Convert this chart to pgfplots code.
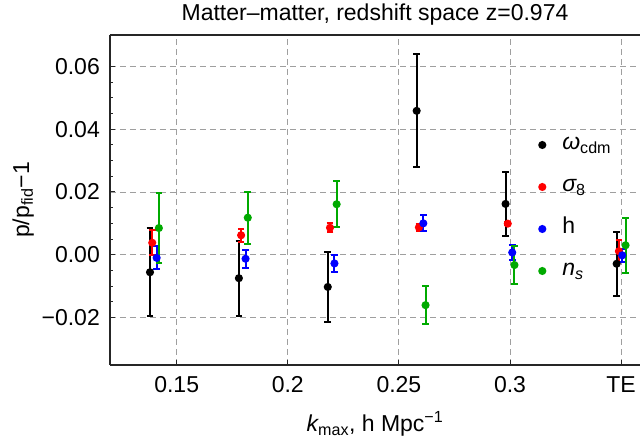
\documentclass[border=0pt]{standalone}
\usepackage{fontspec}
\setmainfont{Liberation Sans}
\usepackage{pgfplots}
\pgfplotsset{compat=1.18}
\usepackage{pgfplotstable}

\definecolor{mred}{rgb}{1,0,0}
\definecolor{mblue}{rgb}{0,0,1}
\definecolor{mgreen}{rgb}{0,0.667,0}
\newcommand\fs{\fontsize{23}{27}\selectfont}

% columns: k (shifted per series), value, error
\pgfplotstableread{
x      y        e
0.138  -0.0056  0.0140
0.178  -0.0075  0.0120
0.218  -0.0103  0.0113
0.258   0.0459  0.0180
0.298   0.0162  0.0103
0.348  -0.0029  0.0102
}\wcdm
\pgfplotstableread{
x      y        e
0.139   0.0038  0.0040
0.179   0.0062  0.0021
0.219   0.0086  0.0015
0.259   0.0087  0.0012
0.299   0.0099  0.0005
0.349   0.0011  0.0035
}\sigmaeight
\pgfplotstableread{
x      y        e
0.141  -0.0010  0.0037
0.181  -0.0013  0.0029
0.221  -0.0028  0.0028
0.261   0.0100  0.0026
0.301   0.0007  0.0025
0.3505 -0.0002  0.0020
}\hubble
\pgfplotstableread{
x      y        e
0.142   0.0085  0.0113
0.182   0.0118  0.0083
0.222   0.0161  0.0073
0.262  -0.0161  0.0061
0.302  -0.0033  0.0060
0.352   0.0030  0.0087
}\nsp

\begin{document}
\begin{tikzpicture}
\begin{axis}[
  name=ax,
  scale only axis, width=530pt, height=330pt,
  xmin=0.12, xmax=0.3585, ymin=-0.0352, ymax=0.0701,
  scaled y ticks=false, scaled x ticks=false,
  axis x line*=box, axis y line*=left,
  axis line style={line width=1.2pt, black!85},
  xtick={0.15,0.2,0.25,0.3,0.35},
  xticklabels={0.15,0.2,0.25,0.3,TE},
  ytick={-0.02,0,0.02,0.04,0.06},
  yticklabels={−0.02,0.00,0.02,0.04,0.06},
  minor y tick num=3,
  xtick pos=left, ytick pos=left,
  tick align=inside,
  major tick length=5pt, minor tick length=3pt,
  tick style={line width=1pt, black!85},
  xticklabel style={font=\fs, inner sep=0pt, anchor=north, yshift=-11pt},
  yticklabel style={font=\fs, inner sep=0pt, anchor=east, xshift=-10pt},
  grid=major,
  grid style={gray!75, line width=0.9pt, dash pattern=on 6pt off 4pt},
  title={Matter–matter, redshift space z=0.974},
  title style={font=\fs, at={(axis description cs:0.5,1.027)}, anchor=base, inner sep=0pt},
  xlabel={{\itshape k}\textsubscript{max}, h Mpc\textsuperscript{−1}},
  xlabel style={font=\fs, at={(axis description cs:0.5,-0.202)}, anchor=base, inner sep=0pt},
  ylabel={p/p\textsubscript{fid}−1},
  ylabel style={font=\fs, at={(axis description cs:-0.164,0.5)}, anchor=center, inner sep=0pt},
  legend style={draw=none, fill=none, font=\fs, inner sep=0pt, outer sep=0pt,
    at={(rel axis cs:0.810,0.70)}, anchor=north west, row sep=20pt, column sep=17pt,
    nodes={inner sep=0pt, text height=16pt, text depth=6pt}},
  legend cell align=left,
  every axis plot/.append style={only marks, mark=*, mark size=3pt, line width=2pt,
    error bars/y dir=both, error bars/y explicit, error bars/error mark=-,
    error bars/error mark options={rotate=90, mark size=3.3pt, line width=2pt}},
]
\addplot[black, mark options={fill=black}, error bars/error bar style={line width=2pt, black}]
  table[x=x, y=y, y error=e]{\wcdm};
\addlegendentry{{\itshape ω}\textsubscript{cdm}}
\addplot[mred, mark options={fill=mred}, error bars/error bar style={line width=2pt, mred}]
  table[x=x, y=y, y error=e]{\sigmaeight};
\addlegendentry{{\itshape σ}\textsubscript{8}}
\addplot[mblue, mark options={fill=mblue}, error bars/error bar style={line width=2pt, mblue}]
  table[x=x, y=y, y error=e]{\hubble};
\addlegendentry{h}
\addplot[mgreen, mark options={fill=mgreen}, error bars/error bar style={line width=2pt, mgreen}]
  table[x=x, y=y, y error=e]{\nsp};
\addlegendentry{{\itshape n}\textsubscript{\itshape s}}
\end{axis}
\pgfresetboundingbox
\path ([shift={(-110pt,-74pt)}]ax.south west) rectangle ([shift={(0pt,35pt)}]ax.north east);
\end{tikzpicture}
\end{document}
